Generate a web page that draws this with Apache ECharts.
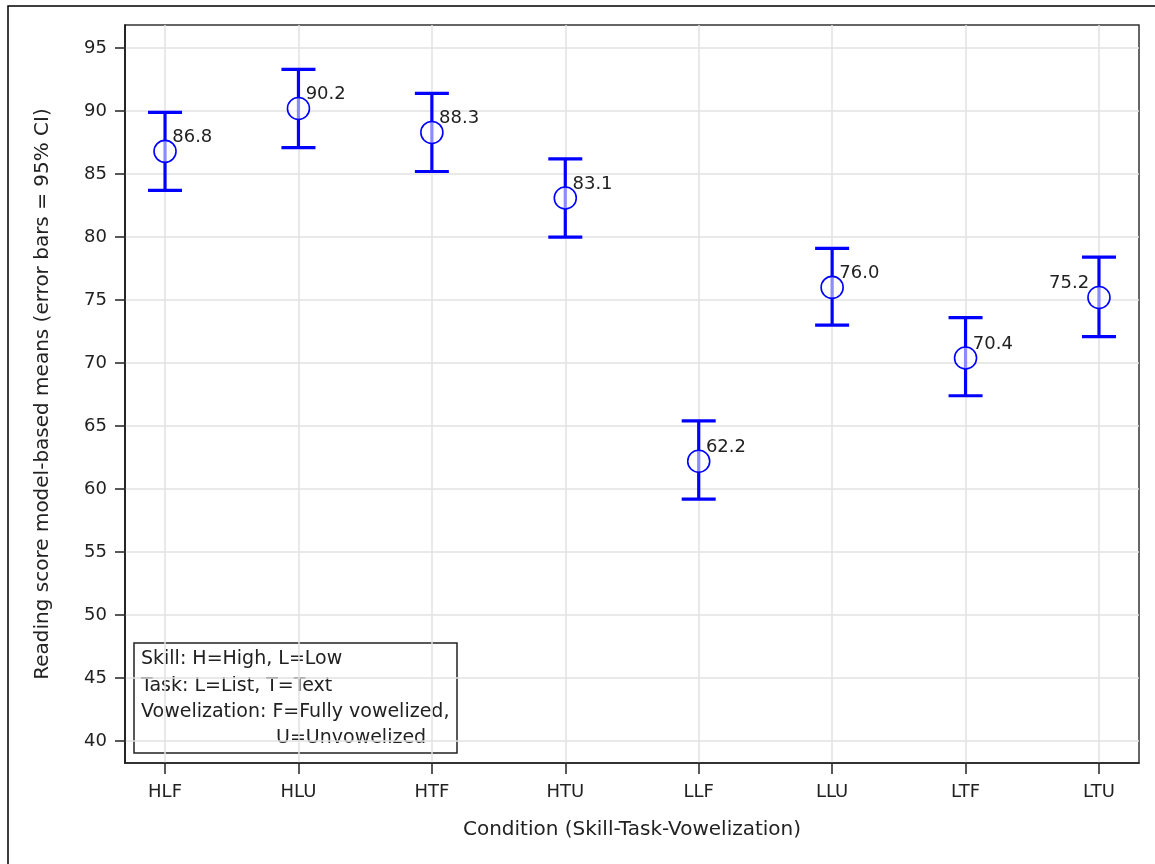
<!DOCTYPE html>
<html>
<head>
<meta charset="utf-8">
<title>Reading score model-based means by condition</title>
<script src="https://cdn.jsdelivr.net/npm/echarts@6/dist/echarts.min.js"></script>
<style>
  html, body { margin: 0; padding: 0; background: #ffffff; }
  #chart { width: 1155px; height: 864px; }
</style>
</head>
<body>
<div id="chart"></div>
<script>
// Conditions (Skill-Task-Vowelization) and their model-based means with 95% CI
const categories = ['HLF', 'HLU', 'HTF', 'HTU', 'LLF', 'LLU', 'LTF', 'LTU'];
const means = [86.8, 90.2, 88.3, 83.1, 62.2, 76.0, 70.4, 75.2];
const lowerCI = [83.7, 87.1, 85.2, 80.0, 59.2, 73.0, 67.4, 72.1];
const upperCI = [89.9, 93.3, 91.4, 86.2, 65.4, 79.1, 73.6, 78.4];
const yTicks = [40, 45, 50, 55, 60, 65, 70, 75, 80, 85, 90, 95];
const xTicks = categories.map((c, i) => i);
const legendLines = [
  'Skill: H=High, L=Low',
  'Task: L=List, T=Text',
  'Vowelization: F=Fully vowelized,',
  'U=Unvowelized'
];
// labels placed to the left of the marker instead of the upper right
const leftLabelled = ['LTU'];

const FONT = 'DejaVu Sans';
const TEXT = '#222222';
const BLUE = '#0000ff';

const chart = echarts.init(document.getElementById('chart'), null, { renderer: 'canvas' });

const errorData = categories.map((c, i) => [i, lowerCI[i], upperCI[i]]);
const meanData = categories.map((c, i) => {
  const left = leftLabelled.indexOf(c) >= 0;
  return {
    value: [i, means[i]],
    label: left
      ? { position: [2, -2], align: 'right' }
      : { position: [19, -2], align: 'left' }
  };
});

const option = {
  backgroundColor: '#ffffff',
  animation: false,
  grid: {
    left: 125, right: 16, top: 25, bottom: 101,
    show: true, borderColor: '#333333', borderWidth: 1.5
  },
  xAxis: {
    type: 'value',
    min: -0.3,
    max: 7.3,
    name: 'Condition (Skill-Task-Vowelization)',
    nameLocation: 'middle',
    nameGap: 57,
    nameTextStyle: { fontFamily: FONT, fontSize: 20, color: TEXT },
    axisLine: { show: true, onZero: false, lineStyle: { color: '#222222', width: 1.5 } },
    axisTick: { show: true, length: 11, customValues: xTicks, lineStyle: { color: '#222222', width: 1.5 } },
    axisLabel: {
      customValues: xTicks,
      margin: 20,
      fontFamily: FONT, fontSize: 18, color: TEXT,
      formatter: v => categories[Math.round(v)]
    },
    splitLine: { show: true, lineStyle: { color: '#e2e2e2', width: 1.5 } }
  },
  yAxis: {
    type: 'value',
    min: 38.25,
    max: 96.83,
    name: 'Reading score model-based means (error bars = 95% CI)',
    nameLocation: 'middle',
    nameGap: 72,
    nameTextStyle: { fontFamily: FONT, fontSize: 20, color: TEXT },
    axisLine: { show: true, onZero: false, lineStyle: { color: '#111111', width: 1.5 } },
    axisTick: { show: true, length: 10, customValues: yTicks, lineStyle: { color: '#222222', width: 1.5 } },
    axisLabel: {
      customValues: yTicks,
      margin: 18,
      fontFamily: FONT, fontSize: 18, color: TEXT
    },
    splitLine: { show: true, lineStyle: { color: '#e2e2e2', width: 1.5 } }
  },
  series: [
    {
      name: '95% CI',
      type: 'custom',
      z: 2,
      data: errorData,
      renderItem: function (params, api) {
        const x = api.value(0);
        const lo = api.coord([x, api.value(1)]);
        const hi = api.coord([x, api.value(2)]);
        const half = 17;
        const style = { stroke: BLUE, lineWidth: 3.2 };
        return {
          type: 'group',
          children: [
            { type: 'line', shape: { x1: lo[0], y1: lo[1], x2: hi[0], y2: hi[1] }, style: style },
            { type: 'line', shape: { x1: hi[0] - half, y1: hi[1], x2: hi[0] + half, y2: hi[1] }, style: style },
            { type: 'line', shape: { x1: lo[0] - half, y1: lo[1], x2: lo[0] + half, y2: lo[1] }, style: style }
          ]
        };
      }
    },
    {
      name: 'Mean',
      type: 'scatter',
      z: 3,
      symbol: 'circle',
      symbolSize: 22,
      itemStyle: { color: 'rgba(255,255,255,0.55)', borderColor: BLUE, borderWidth: 1.6, opacity: 1 },
      label: {
        show: true,
        verticalAlign: 'middle',
        fontFamily: FONT,
        fontSize: 18,
        color: TEXT,
        opacity: 1,
        formatter: p => p.value[1].toFixed(1)
      },
      emphasis: { disabled: true },
      data: meanData
    }
  ],
  graphic: [
    {
      // outer image border
      type: 'rect',
      silent: true,
      z: 100,
      shape: { x: 8, y: 6, width: 1200, height: 900 },
      style: { fill: 'none', stroke: '#000000', lineWidth: 1.5 }
    },
    {
      // key explaining the condition codes (gridlines show through it)
      type: 'group',
      z: 50,
      children: [
        {
          type: 'rect',
          shape: { x: 134, y: 643, width: 323, height: 110 },
          style: { fill: 'none', stroke: '#222222', lineWidth: 1.5 }
        },
        { type: 'text', x: 141, y: 659, style: { text: legendLines[0], font: '19px "DejaVu Sans"', fill: TEXT, verticalAlign: 'middle' } },
        { type: 'text', x: 141, y: 686, style: { text: legendLines[1], font: '19px "DejaVu Sans"', fill: TEXT, verticalAlign: 'middle' } },
        { type: 'text', x: 141, y: 712, style: { text: legendLines[2], font: '19px "DejaVu Sans"', fill: TEXT, verticalAlign: 'middle' } },
        { type: 'text', x: 276, y: 738, style: { text: legendLines[3], font: '19px "DejaVu Sans"', fill: TEXT, verticalAlign: 'middle' } }
      ]
    }
  ]
};

chart.setOption(option);
</script>
</body>
</html>
